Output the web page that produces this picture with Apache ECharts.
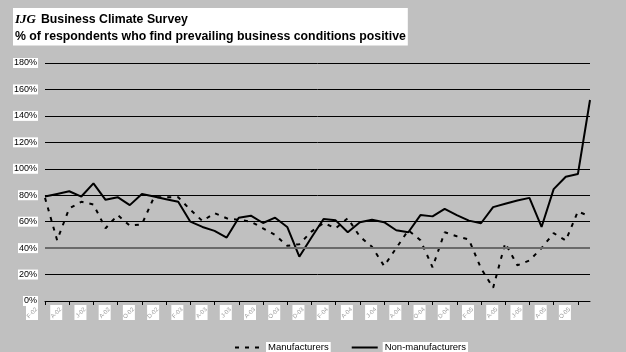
<!DOCTYPE html>
<html>
<head>
<meta charset="utf-8">
<script src="https://cdn.jsdelivr.net/npm/echarts@6/dist/echarts.min.js"></script>
<style>
  html, body { margin: 0; padding: 0; background: #c0c0c0; }
  #chart { width: 626px; height: 352px; }
</style>
</head>
<body>
<div id="chart"></div>
<script>
// monthly, Feb 2002 .. Nov 2005
var months = [
  'Feb-02', 'Mar-02', 'Apr-02', 'May-02', 'Jun-02', 'Jul-02', 'Aug-02', 'Sep-02', 'Oct-02', 'Nov-02', 'Dec-02',
  'Jan-03', 'Feb-03', 'Mar-03', 'Apr-03', 'May-03', 'Jun-03', 'Jul-03', 'Aug-03', 'Sep-03', 'Oct-03', 'Nov-03', 'Dec-03',
  'Jan-04', 'Feb-04', 'Mar-04', 'Apr-04', 'May-04', 'Jun-04', 'Jul-04', 'Aug-04', 'Sep-04', 'Oct-04', 'Nov-04', 'Dec-04',
  'Jan-05', 'Feb-05', 'Mar-05', 'Apr-05', 'May-05', 'Jun-05', 'Jul-05', 'Aug-05', 'Sep-05', 'Oct-05', 'Nov-05'
]

var manufacturers = [
  78, 46, 70, 75, 73, 55, 65, 57, 58, 78.5, 78.5, 78.5,
  69, 60.5, 66.5, 62.6, 61.4, 60, 55, 50, 41.7, 43, 52.5, 59,
  55, 62.6, 48.7, 41, 26.5, 40, 53.5, 46, 25.5, 52, 49, 46.5,
  24.7, 10, 43.7, 27, 30.6, 40, 51.3, 45.7, 67.7, 64
]

var nonManufacturers = [
  79, 81, 83, 79, 89, 76.5, 78.5, 72.5, 81, 79, 77, 75,
  60, 56, 53, 48, 63, 64.5, 59, 63, 56, 33.5, 48, 62,
  61, 52, 59.5, 61.4, 59.6, 53.5, 52, 65, 64, 69.7, 65, 60.8,
  58.8, 71, 73.5, 76, 78, 56, 84.6, 94, 96, 152
]

var seriesNames = ['Manufacturers', 'Non-manufacturers']

var font = 'Liberation Sans, Arial, sans-serif'

var shortLabel = function (v) {
  return v.charAt(0) + v.slice(3)
}

var chart = echarts.init(document.getElementById('chart'))

var option = {
  animation: false,
  backgroundColor: '#c0c0c0',
  title: {
    left: 13,
    top: 8,
    padding: [3, 2, 3, 2],
    backgroundColor: '#fff',
    text: '{i|IJG} {b|Business Climate Survey}\n{b|% of respondents who find prevailing business conditions positive}',
    textStyle: {
      rich: {
        i: { fontFamily: 'Liberation Serif, Times New Roman, serif', fontStyle: 'italic', fontWeight: 'bold', fontSize: 13, lineHeight: 15, color: '#000' },
        b: { fontFamily: font, fontWeight: 'bold', fontSize: 12.3, lineHeight: 15, color: '#000' }
      }
    }
  },
  legend: {
    left: 229,
    top: 337,
    itemWidth: 26,
    itemHeight: 10,
    itemGap: 20,
    data: seriesNames,
    itemStyle: { opacity: 0 },
    textStyle: {
      fontFamily: font,
      fontSize: 9.5,
      color: '#000',
      backgroundColor: '#fff',
      padding: [1, 2, 0, 2]
    }
  },
  grid: {
    left: 45,
    right: 36,
    top: 63,
    bottom: 51
  },
  xAxis: [
    {
      type: 'category',
      position: 'bottom',
      data: months,
      boundaryGap: false,
      z: 2,
      axisLine: { lineStyle: { color: '#000', width: 1 } },
      axisTick: { interval: 1, length: 4, lineStyle: { color: '#000' } },
      axisLabel: {
        interval: 1,
        rotate: 45,
        margin: -1,
        formatter: function (v) { return '{t|' + shortLabel(v) + '}{s| }' },
        rich: {
          t: { fontFamily: font, fontSize: 6, color: '#9a9a9a' },
          s: { width: 12 }
        }
      },
      splitLine: { show: false }
    },
    {
      // white label boxes behind the rotated tick labels
      type: 'category',
      position: 'bottom',
      data: months,
      boundaryGap: false,
      z: 1,
      axisLine: { show: false },
      axisTick: { show: false },
      axisLabel: {
        interval: 1,
        margin: 4,
        align: 'right',
        formatter: function () { return '{b| }{s| }' },
        rich: {
          b: { width: 12, height: 15, backgroundColor: '#fff' },
          s: { width: 7, height: 15 }
        }
      },
      splitLine: { show: false }
    }
  ],
  yAxis: {
    type: 'value',
    min: 0,
    max: 180,
    interval: 20,
    axisLine: { show: false },
    axisTick: { show: false },
    axisLabel: {
      margin: 7,
      formatter: '{value}%',
      fontFamily: font,
      fontSize: 9,
      color: '#000',
      backgroundColor: '#fff',
      padding: [1, 1, 0, 1]
    },
    splitLine: { lineStyle: { color: '#000', width: 1 } }
  },
  series: [
    {
      name: seriesNames[0],
      type: 'line',
      data: manufacturers,
      symbol: 'none',
      lineStyle: { color: '#000', width: 2, type: [4, 6] },
      itemStyle: { color: '#000' },
      markLine: {
        silent: true,
        symbol: 'none',
        label: { show: false },
        lineStyle: { color: '#6a6a6a', width: 2, type: 'solid' },
        data: [{ yAxis: 40 }]
      }
    },
    {
      name: seriesNames[1],
      type: 'line',
      data: nonManufacturers,
      symbol: 'none',
      lineStyle: { color: '#000', width: 2 },
      itemStyle: { color: '#000' }
    }
  ]
}

chart.setOption(option)
</script>
</body>
</html>
